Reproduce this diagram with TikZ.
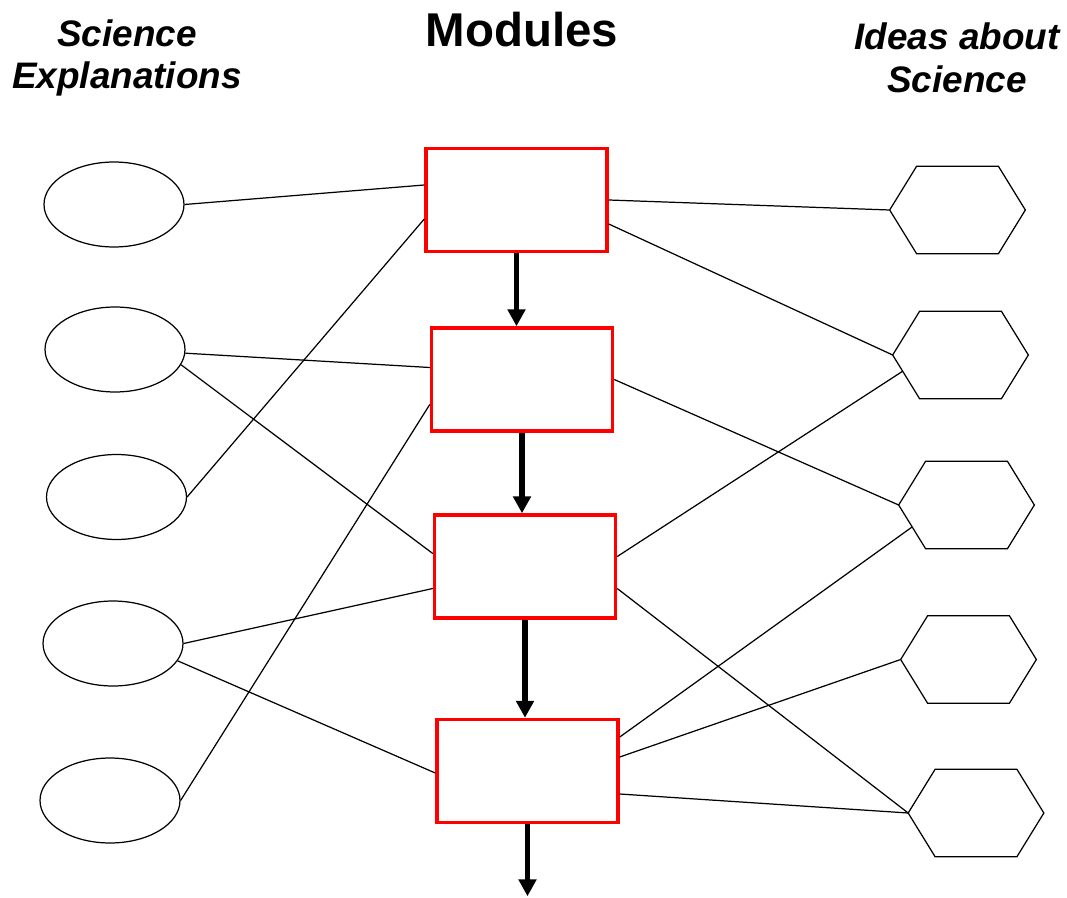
\documentclass[tikz,border=0pt]{standalone}
\usepackage{fontspec}
\setmainfont{Liberation Sans}
\usepackage{tikz}
\usetikzlibrary{positioning,shapes,arrows.meta,calc}
\definecolor{modred}{HTML}{FF0000}
\tikzset{
    module/.style={rectangle, draw=modred, line width=2pt, minimum width=3.62cm, minimum height=2.06cm},
    explanation/.style={ellipse, draw, line width=0.7pt, minimum width=2.8cm, minimum height=1.7cm},
    ideaslot/.style={rectangle, inner sep=0pt, minimum width=2.7cm, minimum height=1.74cm},
    hexline/.style={line width=0.7pt, line join=miter},
    link/.style={line width=0.7pt},
    flow/.style={-{Triangle[length=9.6pt, width=9.8pt]}, line width=3pt},
    heading/.style={font=\fontsize{27}{31}\selectfont\bfseries},
    colhead/.style={align=center, font=\fontsize{21}{24.4}\selectfont\bfseries\itshape}
}

\begin{document}
\begin{tikzpicture}[x=0.02cm, y=-0.02cm]
\useasboundingbox (0,0) rectangle (1067,898);

% Headings
\node[heading] (modtitle) at (522,30) {Modules};
\node[colhead] (expltitle) at (127,58) {Science\\Explanations};
\node[colhead] (ideatitle) at (957,58) {Ideas about\\Science};

% Modules
\node[module] (mod1) at (516.5,200) {};
\node[module] (mod2) at (522,379.5) {};
\node[module] (mod3) at (525,566.5) {};
\node[module] (mod4) at (527.5,771) {};

% Science explanations
\foreach \n/\x/\y in {1/114/204.5, 2/115/349.5, 3/116.5/497, 4/113/643.5, 5/110/800.5}
    \node[explanation] (expl\n) at (\x,\y) {};

% Ideas about science (hexagons)
\foreach \n/\x/\y in {1/957.5/210, 2/960.5/355, 3/966.5/505, 4/968.5/659.5, 5/976/813} {
    \node[ideaslot] (idea\n) at (\x,\y) {};
    \coordinate (idea\n-sw) at ($(idea\n.south west)+(27,0)$);
    \draw[hexline] (idea\n.west) -- ($(idea\n.north west)+(27,0)$) -- ($(idea\n.north east)+(-27,0)$)
        -- (idea\n.east) -- ($(idea\n.south east)+(-27,0)$) -- (idea\n-sw) -- cycle;
}

% Module sequence
\foreach \a/\b in {1/2, 2/3, 3/4}
    \draw[flow] (mod\a.south) -- (mod\a.south |- mod\b.north);
\coordinate (tail) at ($(mod4.south)+(0,72)$);
\draw[flow] (mod4.south) -- (tail);

% Explanations to modules
\draw[link] (expl1.east) -- ($(mod1.west)+(0,-15)$);
\draw[link] (expl3.east) -- ($(mod1.west)+(0,19)$);
\draw[link] (expl2.-3) -- ($(mod2.west)+(0,-12)$);
\draw[link] (expl2.-13) -- ($(mod3.west)+(0,-13)$);
\draw[link] (expl5.east) -- ($(mod2.west)+(0,25)$);
\draw[link] (expl4.east) -- ($(mod3.west)+(0,22)$);
\draw[link] (expl4.-15) -- ($(mod4.west)+(0,2)$);

% Modules to ideas
\draw[link] (mod1.east) -- (idea1.west);
\draw[link] ($(mod1.east)+(0,24)$) -- (idea2.west);
\draw[link] (mod2.east) -- (idea3.west);
\draw[link] ($(mod3.east)+(0,-10)$) -- ($(idea2.west)!0.37!(idea2-sw)$);
\draw[link] ($(mod3.east)+(0,22)$) -- (idea5.west);
\draw[link] ($(mod4.east)+(0,-34)$) -- ($(idea3.west)!0.5!(idea3-sw)$);
\draw[link] ($(mod4.east)+(0,-14)$) -- (idea4.west);
\draw[link] ($(mod4.east)+(0,23)$) -- (idea5.west);

\end{tikzpicture}
\end{document}
